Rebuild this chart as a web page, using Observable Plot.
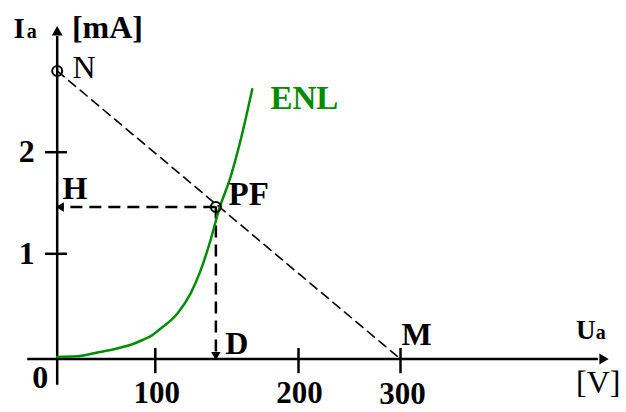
<!DOCTYPE html>
<html><head><meta charset="utf-8">
<script src="https://cdn.jsdelivr.net/npm/d3@7"></script>
<script src="https://cdn.jsdelivr.net/npm/@observablehq/plot@0.6"></script>
<style>body{margin:0;background:#fff}svg{display:block}</style>
</head><body><div id="chart"></div>
<script>
// ---- data ----
const xTicks = [100, 200, 300];
const xTickLabels = ["100", "200", "300"];
const yTicks = [1, 2];
const yTickLabels = ["1", "2"];
// ENL characteristic (U in V, I in mA)
const enlU = [0, 20, 40, 61, 78, 88, 95, 103.6, 115.3, 124.6, 131.6, 138.5, 144.3, 152.5, 159.5, 167.7];
const enlI = [0.02, 0.025, 0.06, 0.10, 0.145, 0.185, 0.215, 0.287, 0.43, 0.621, 0.84, 1.131, 1.426, 1.754, 2.115, 2.62];
// load line N -> M
const loadU = [0, 300];
const loadI = [2.8, 0];
// operating point PF
const pfU = [142.3];
const pfI = [1.46];

try {
const enl = enlU.map((u, i) => ({u, i: enlI[i]}));
const load = loadU.map((u, k) => ({u, i: loadI[k]}));
const circles = [{u: loadU[0], i: loadI[0]}, {u: pfU[0], i: pfI[0]}];

const serif = "Liberation Serif";
const green = "#008C00";
const T = (text, x, y, o = {}) => Plot.text([{text, x, y}], {x: "x", y: "y", text: "text", fontFamily: serif, fontWeight: "bold", fontSize: 32, fill: "black", textAnchor: "start", lineAnchor: "bottom", ...o});

const chart = Plot.plot({
  width: 626, height: 412, margin: 0,
  x: {type: "linear", domain: [0, 100, 200, 300], range: [56.7, 154.8, 298, 400], axis: null},
  y: {type: "linear", domain: [0, 1, 2], range: [358.5, 253.3, 151.7], axis: null},
  marks: [
    // axes
    Plot.ruleY([0], {x1: -30, x2: 494, stroke: "black", strokeWidth: 2.5}),
    Plot.ruleX([0], {y1: -0.25, y2: 3.14, stroke: "black", strokeWidth: 2.5}),
    Plot.dot([{x: 498, y: 0}], {x: "x", y: "y", symbol: "triangle", r: 4, fill: "black", rotate: 90}),
    Plot.dot([{x: 0, y: 3.18}], {x: "x", y: "y", symbol: "triangle", r: 4, fill: "black"}),
    Plot.ruleX(xTicks, {y1: -0.14, y2: 0.10, stroke: "black", strokeWidth: 2.5}),
    Plot.ruleY(yTicks, {x1: -11.9, x2: 10.5, stroke: "black", strokeWidth: 2.5}),
    // load line
    Plot.line(load, {x: "u", y: "i", stroke: "black", strokeWidth: 1.6, strokeDasharray: "9,6"}),
    // projections
    Plot.ruleY(pfI, {x1: pfU[0], x2: 3, stroke: "black", strokeWidth: 2.5, strokeDasharray: "12,7"}),
    Plot.ruleX(pfU, {y1: pfI[0], y2: 0.06, stroke: "black", strokeWidth: 2.5, strokeDasharray: "12,7"}),
    Plot.dot([{x: 4, y: pfI[0]}], {x: "x", y: "y", symbol: "triangle", r: 3.5, fill: "black", rotate: -90}),
    Plot.dot([{x: pfU[0], y: 0.04}], {x: "x", y: "y", symbol: "triangle", r: 3.5, fill: "black", rotate: 180}),
    // ENL curve
    Plot.line(enl, {x: "u", y: "i", stroke: green, strokeWidth: 2.5, curve: "monotone-x"}),
    // points
    Plot.dot(circles, {x: "u", y: "i", r: 5, stroke: "black", strokeWidth: 2, fill: "none"}),
    // tick labels
    Plot.text(yTicks, {x: () => -23, y: d => d, text: (d, k) => yTickLabels[k], fontFamily: serif, fontWeight: "bold", fontSize: 32, textAnchor: "end", lineAnchor: "middle"}),
    Plot.text(xTicks, {x: d => d + (d === 300 ? 2 : 1), y: d => d === 300 ? -0.43 : -0.423, text: (d, k) => xTickLabels[k], fontFamily: serif, fontWeight: "bold", fontSize: 31, textAnchor: "middle", lineAnchor: "bottom"}),
    T("0", -9, -0.28, {textAnchor: "end"}),
    // labels
    T("I", -44.5, 3.12, {fontSize: 29}),
    T("a", -31, 3.12, {fontSize: 20}),
    T("[mA]", 15, 3.12, {fontSize: 32}),
    T("N", 15.6, 2.73, {fontWeight: "normal"}),
    T("ENL", 180.4, 2.43, {fill: green, fontSize: 33}),
    T("H", 5.4, 1.54),
    T("PF", 151.1, 1.48, {fontSize: 33}),
    T("D", 148.9, 0.05),
    T("M", 301, 0.13),
    T("U", 472, 0.19, {fontSize: 27}),
    T("a", 491.5, 0.19, {fontSize: 20}),
    T("[V]", 515.7, -0.32, {fontWeight: "normal", textAnchor: "end"})
  ]
});
document.getElementById("chart").appendChild(chart);
} catch (e) {
  document.getElementById("chart").textContent = "ERR: " + e.message + " " + e.stack;
}
</script>
</body></html>
